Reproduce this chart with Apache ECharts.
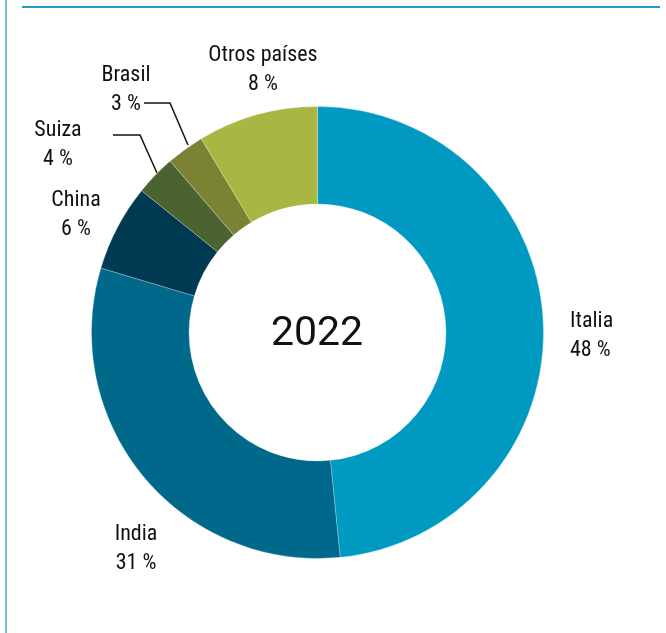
<!DOCTYPE html>
<html>
<head>
<meta charset="utf-8">
<script src="https://cdn.jsdelivr.net/npm/echarts@6/dist/echarts.min.js"></script>
<style>
html,body{margin:0;padding:0;background:#fff;}
#chart{width:666px;height:633px;}
</style>
</head>
<body>
<div id="chart"></div>
<script>
const categories = ['Italia', 'India', 'China', 'Suiza', 'Brasil', 'Otros países'];
const values = [48.4, 31.2, 6.2, 2.9, 2.7, 8.6];
const shownPct = [48, 31, 6, 4, 3, 8];
const centerTitle = '2022';

const colors = ['#0099c2', '#00688a', '#003a52', '#4a6331', '#7b8234', '#a9b644'];
const labelPos = [
  {x: 570, y: 336, align: 'left'},
  {x: 136, y: 549, align: 'center'},
  {x: 76, y: 215, align: 'center'},
  {x: 58, y: 145, align: 'center'},
  {x: 126, y: 90, align: 'center'},
  {x: 263, y: 70, align: 'center'}
];
const linePts = {
  3: [[113, 135], [140, 135], [157, 173]],
  4: [[144, 103], [170, 103], [188, 145]]
};

const font = '"Roboto Condensed", "Liberation Sans Narrow", Roboto, sans-serif';
const chart = echarts.init(document.getElementById('chart'));
chart.setOption({
  animation: false,
  graphic: [
    {type: 'line', shape: {x1: 6, y1: 0, x2: 6, y2: 633}, style: {stroke: '#4fa3c7', lineWidth: 1.5}},
    {type: 'line', shape: {x1: 22, y1: 7, x2: 660, y2: 7}, style: {stroke: '#1d9ac9', lineWidth: 2}},
    {type: 'text', x: 317, y: 335, z: 10, style: {text: centerTitle, fontSize: 41, fontFamily: 'Roboto, sans-serif', fill: '#111', align: 'center', verticalAlign: 'middle'}}
  ],
  series: [{
    type: 'pie',
    center: [317.5, 332.5],
    radius: [128.5, 226],
    startAngle: 90,
    clockwise: true,
    avoidLabelOverlap: false,
    itemStyle: {borderColor: 'rgba(255,255,255,0.5)', borderWidth: 0.5},
    label: {
      show: true,
      formatter: (p) => p.name + '\n' + shownPct[p.dataIndex] + ' %',
      fontFamily: font,
      fontSize: 22,
      lineHeight: 29,
      color: '#111'
    },
    labelLine: {show: false},
    labelLayout: function (params) {
      const i = params.dataIndex;
      const lp = labelPos[i];
      const res = {x: lp.x, y: lp.y, align: lp.align, verticalAlign: 'middle', hideOverlap: false, moveOverlap: false};
      if (linePts[i]) res.labelLinePoints = linePts[i];
      return res;
    },
    data: categories.map((c, i) => ({
      name: c,
      value: values[i],
      itemStyle: {color: colors[i]},
      labelLine: linePts[i] ? {show: true, lineStyle: {color: '#111', width: 1.5}} : {show: false}
    }))
  }]
});
</script>
</body>
</html>
